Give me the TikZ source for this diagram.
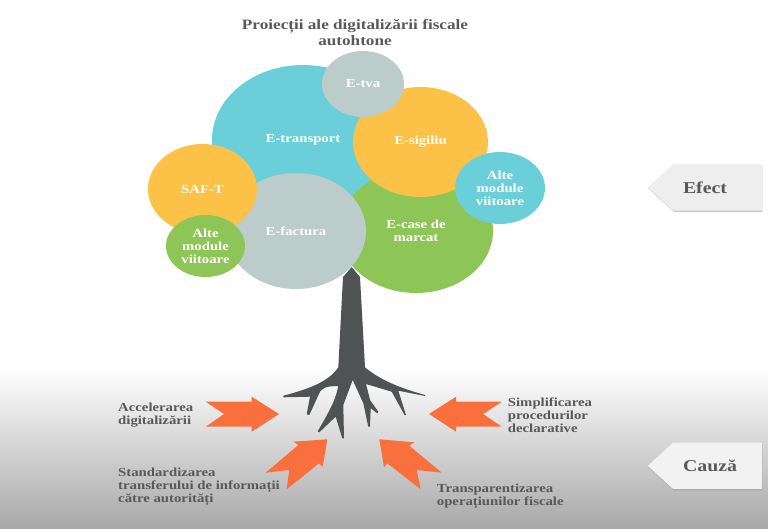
\documentclass[tikz,border=0pt]{standalone}
\usepackage{fontspec}
\setmainfont[FakeStretch=1.2]{Liberation Serif}
\usetikzlibrary{positioning, shapes, shadows}
\definecolor{bubbleblue}{HTML}{6ACFD8}
\definecolor{bubbleyellow}{HTML}{FBC247}
\definecolor{bubblegreen}{HTML}{8DC657}
\definecolor{bubblegrey}{HTML}{BCCCCB}
\definecolor{trunkgrey}{HTML}{4F5354}
\definecolor{arroworange}{HTML}{F9703E}
\definecolor{textgrey}{HTML}{58595B}
\tikzstyle{bubble} = [ellipse, inner sep=0pt, text=white, align=center,
    font=\bfseries\fontsize{12.3}{13}\selectfont]
\tikzstyle{reason} = [anchor=west, inner sep=0pt, align=left, text=textgrey,
    font=\bfseries\fontsize{12.3}{13}\selectfont]
\tikzstyle{tagbox} = [signal, signal to=west, signal pointer angle=85, fill=#1,
    inner sep=0pt, minimum width=114pt, minimum height=46.5pt, text=textgrey,
    drop shadow={shadow xshift=0.6pt, shadow yshift=-1.2pt, fill=black!45},
    font=\bfseries\fontsize{16.5}{18}\selectfont]
\tikzstyle{pointer} = [fill=arroworange]

\begin{document}
\begin{tikzpicture}[x=1pt, y=-1pt]
        \useasboundingbox (0,0) rectangle (768,531);
        \shade [top color=white, bottom color=black!34] (0,368) rectangle (768,528);
        % Trunk and roots
        \fill [trunkgrey] (351.7,267) -- (343,277) -- (338.3,367.3)
            .. controls (330,380) and (313,388) .. (283.3,395.7) -- (283.3,397.3)
            -- (310,396.7) -- (306.7,414.3) -- (309.3,415) -- (320,391.7)
            .. controls (323,388) and (326,386) .. (338.3,386)
            .. controls (336,396) and (335,402) .. (317.7,431.3) -- (319.3,432.3)
            -- (335.7,416.7) -- (342.3,438.3) -- (344,438.3) -- (343.3,405)
            -- (352.7,380) -- (363.3,403.3) -- (368.3,426.7) -- (370,426.7)
            -- (370.7,408.3) -- (377.3,413.3) -- (378.3,411.7) -- (370,400)
            -- (366,384) -- (391.7,391.7) -- (404.7,415.3) -- (406,415)
            -- (398.3,390.7) -- (425,396) -- (425,395)
            .. controls (400,388) and (380,380) .. (365,367.3)
            -- (360,277) -- cycle;
        % Place nodes
        \node [bubble, fill=bubbleblue, minimum width=182pt, minimum height=150pt] (transport) at (303,140) {E-transport};
        \node [bubble, fill=bubblegreen, minimum width=154pt, minimum height=124pt] (case) at (416,231) {E-case de\\marcat};
        \node [bubble, fill=bubbleyellow, minimum width=135pt, minimum height=110pt] (sigiliu) at (420.5,142) {\raisebox{-2pt}{E-sigiliu}};
        \node [bubble, fill=bubblegrey, minimum width=82pt, minimum height=66pt] (tva) at (363,84) {E-tva};
        \node [bubble, fill=bubblegrey, minimum width=140pt, minimum height=116pt] (factura) at (296,231) {E-factura};
        \node [bubble, fill=bubbleyellow, minimum width=109pt, minimum height=90pt] (saft) at (202.5,189) {SAF-T};
        \node [bubble, fill=bubblegreen, minimum width=79pt, minimum height=62pt] (altegreen) at (205.5,246) {Alte\\module\\viitoare};
        \node [bubble, fill=bubbleblue, minimum width=90pt, minimum height=72pt] (alteblue) at (500,188) {Alte\\module\\viitoare};
        \node [text=textgrey, align=center, inner sep=0pt, font=\bfseries\fontsize{14.3}{16}\selectfont] (title) at (355,33) {Proiecții ale digitalizării fiscale\\autohtone};
        \node [tagbox=black!6.5] (efect) at (717.5,187.3) {Efect\hspace*{25pt}};
        \node [tagbox=black!5, below of=efect, node distance=278.5pt] (cauza) {Cauză\hspace*{15pt}};
        % Reasons
        \node [reason] (accelerare) at (118,415.5) {Accelerarea\\digitalizării};
        \node [reason] (standard) at (118,486.5) {Standardizarea\\transferului de informații\\către autorități};
        \node [reason] (simplificare) at (507.7,415) {Simplificarea\\procedurilor\\declarative};
        \node [reason] (transparenta) at (436.7,496.5) {Transparentizarea\\operațiunilor fiscale};
        % Draw arrows
        \fill [pointer] (205.7,401.7) -- (251.7,401.7) -- (251.7,396.7) -- (279,414) -- (251.7,431.7) -- (251.7,426.7) -- (205.7,426.7) -- (224,414) -- cycle;
        \fill [pointer] (429,414) -- (456,396.7) -- (456,401.7) -- (501.7,401.7) -- (483.3,414) -- (501.7,426.7) -- (456,426.7) -- (456,431.7) -- cycle;
        \fill [pointer] (327.3,439.3) -- (293.3,441.7) -- (298.3,445) -- (265.7,472.7) -- (289.3,470) -- (286.7,489.3) -- (319,463.3) -- (322.7,466.7) -- cycle;
        \fill [pointer] (379.3,439.3) -- (414.3,442.3) -- (409.3,445.7) -- (441.7,472.7) -- (416.7,470) -- (420.7,489.3) -- (387.3,463.3) -- (384,467.3) -- cycle;
      \end{tikzpicture}
\end{document}
